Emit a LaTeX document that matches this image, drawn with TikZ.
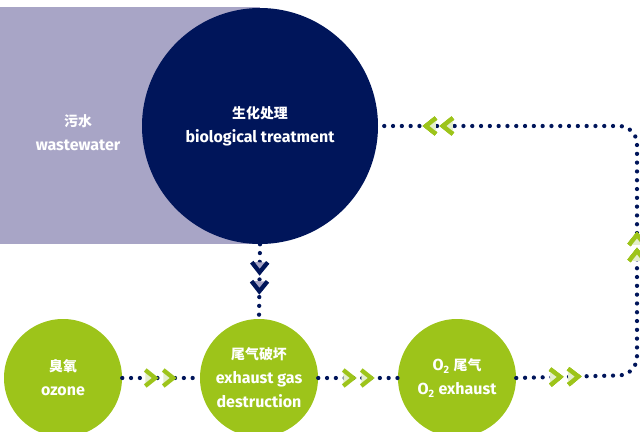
\documentclass[tikz,border=0pt]{standalone}
\usepackage{fontspec}
\setmainfont{Fira Sans}
\newfontfamily\cjk[Scale=0.87]{Noto Sans CJK SC}
\usepackage{tikz}
\usetikzlibrary{decorations.markings}
\definecolor{wwnavy}{RGB}{0,21,90}
\definecolor{wwlilac}{RGB}{168,165,198}
\definecolor{wwgreen}{RGB}{157,196,26}
\definecolor{wwpale}{RGB}{228,238,205}

% chevron drawn at a marking, pointing along the path
\newcommand\chevron[2]{%
  \fill[#2, sharp corners] (-6,-8) -- (4,0) -- (-6,8) -- cycle;
  \draw[#1, solid, sharp corners, line width=3.2pt, line cap=butt, line join=miter] (-6,-8) -- (4,0) -- (-6,8);}

\tikzset{
  txt/.style={text=white, align=center, font=\fontsize{12pt}{18pt}\selectfont\bfseries},
  stage/.style={circle, fill=wwgreen, minimum size=88.5pt, inner sep=0pt, txt},
  dotline/.style={wwnavy, line width=3.2pt, line cap=round, dash pattern=on 0pt off 6.6pt},
  chevs/.style n args={4}{postaction={decorate}, decoration={markings,
    mark=at position #1 with {\chevron{#3}{#4}},
    mark=at position #2 with {\chevron{#3}{#4}}}},
}

\begin{document}
\begin{tikzpicture}[x=0.75pt, y=-0.75pt]
\useasboundingbox (0,0) rectangle (640,432);
\clip (0,0) rectangle (640,432);

\fill[wwlilac] (0,7) rectangle (260,244);
\node[txt] (waste) at (78,133) {{\cjk 污水}\\ wastewater};

\node[circle, fill=wwnavy, minimum size=177pt, inner sep=0pt, txt] (bio) at (260,126)
  {{\cjk 生化处理}\\ biological treatment};

\node[stage] (ozone) at (63,378) {{\cjk 臭氧}\\ ozone};
\node[stage] (destr) at (259,378) {{\cjk 尾气破坏}\\ exhaust gas\\ destruction};
\node[stage] (otwo) at (457,378) {O\textsubscript{2} {\cjk 尾气}\\ O\textsubscript{2} exhaust};

\draw[dotline, chevs={18pt}{32.25pt}{wwnavy}{wwlilac}] (bio.south) -- (destr.north);
\draw[dotline, chevs={21.75pt}{35.25pt}{wwgreen}{wwpale}] (ozone.east) -- (destr.west);
\draw[dotline, chevs={23.25pt}{36.75pt}{wwgreen}{wwpale}] (destr.east) -- (otwo.west);

% feedback line back to the treatment stage
\draw[dotline, rounded corners=13.5pt, chevs={30pt}{43.5pt}{wwgreen}{wwpale}, chevs={175pt}{187pt}{wwgreen}{wwpale}, chevs={408.5pt}{421.2pt}{wwgreen}{wwpale}]
  (otwo.east) -- (637,375) -- (637,126) -- (bio.east);
\end{tikzpicture}
\end{document}
